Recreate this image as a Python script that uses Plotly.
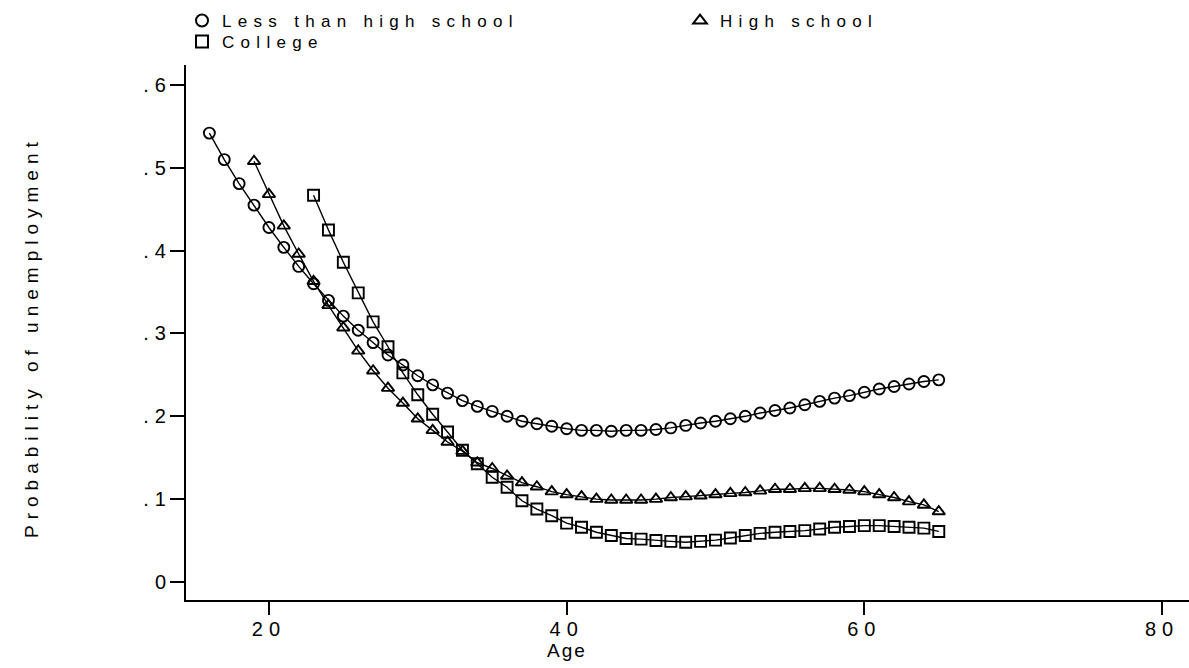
import plotly.graph_objects as go

# ---- data ----
ages_lths = list(range(16, 66))
lths = [0.542, 0.510, 0.481, 0.455, 0.428, 0.404, 0.381, 0.360, 0.340, 0.321,
        0.304, 0.289, 0.274, 0.262, 0.249, 0.238, 0.228, 0.219, 0.212, 0.206,
        0.200, 0.194, 0.191, 0.188, 0.185, 0.183, 0.183, 0.182, 0.183, 0.183,
        0.184, 0.186, 0.189, 0.192, 0.194, 0.197, 0.200, 0.204, 0.207, 0.210,
        0.214, 0.218, 0.222, 0.225, 0.229, 0.233, 0.236, 0.239, 0.242, 0.244]

ages_hs = list(range(19, 66))
hs = [0.508, 0.468, 0.430, 0.396, 0.363, 0.334, 0.307, 0.279, 0.255, 0.234,
      0.216, 0.197, 0.183, 0.169, 0.158, 0.144, 0.137, 0.128, 0.120, 0.115,
      0.109, 0.1055, 0.103, 0.100, 0.099, 0.099, 0.099, 0.100, 0.102, 0.103,
      0.104, 0.1055, 0.107, 0.108, 0.110, 0.112, 0.112, 0.113, 0.113, 0.112,
      0.111, 0.109, 0.1055, 0.102, 0.097, 0.093, 0.085]

ages_col = list(range(23, 66))
college = [0.467, 0.425, 0.386, 0.349, 0.314, 0.284, 0.2525, 0.226, 0.2025, 0.181,
           0.159, 0.1427, 0.1264, 0.1143, 0.098, 0.088, 0.080, 0.071, 0.066, 0.060,
           0.056, 0.0525, 0.0517, 0.050, 0.049, 0.048, 0.049, 0.0505, 0.053, 0.056,
           0.0586, 0.060, 0.061, 0.062, 0.064, 0.066, 0.067, 0.068, 0.068, 0.067,
           0.066, 0.065, 0.061]

names = ["Less than high school", "High school", "College"]
symbols = ["circle-open", "triangle-up-open", "square-open"]
y_tickvals = [0, 0.1, 0.2, 0.3, 0.4, 0.5, 0.6]
y_ticktext = ["0", ".1", ".2", ".3", ".4", ".5", ".6"]
x_tickvals = [20, 40, 60, 80]
x_title = "Age"
y_title = "Probability of unemployment"

FONT = "Liberation Sans, Arial, Helvetica, sans-serif"
W, H = 1189, 668
L_M, R_M, T_M, B_M = 186, 0, 65, 68
fig = go.Figure()

series = [(ages_lths, lths), (ages_hs, hs), (ages_col, college)]
for (xs, ys), nm, sym in zip(series, names, symbols):
    fig.add_trace(go.Scatter(
        x=xs, y=ys, mode="lines+markers", name=nm, showlegend=False,
        line=dict(color="black", width=1.4),
        marker=dict(symbol=sym, size=11, color="black",
                    line=dict(width=1.9, color="black")),
    ))

legend_ids = ["legend", "legend2", "legend3"]
for nm, sym, lg in zip(names, symbols, legend_ids):
    fig.add_trace(go.Scatter(
        x=[None], y=[None], mode="markers", name=nm, legend=lg,
        marker=dict(symbol=sym, size=8, color="black",
                    line=dict(width=1.4, color="black")),
    ))

def leg(xpx, ycenter_px):
    # first legend row sits ~18px below the legend's top edge
    return dict(xref="container", yref="container", x=xpx / W,
                y=1 - (ycenter_px - 18) / H, xanchor="left", yanchor="top",
                orientation="v", font=dict(family=FONT, size=17, color="black"),
                bgcolor="rgba(0,0,0,0)", itemsizing="constant")

plot_h = H - T_M - B_M
plot_w = W - L_M - R_M
fig.update_layout(
    width=W, height=H,
    paper_bgcolor="white", plot_bgcolor="white",
    margin=dict(l=L_M, r=R_M, t=T_M, b=B_M, autoexpand=False),
    font=dict(family=FONT, size=17, color="black"),
    legend=leg(182, 21),
    legend2=leg(680, 21),
    legend3=leg(182, 42),
    xaxis=dict(range=[14.43, 81.81], tickvals=x_tickvals, ticks="outside",
               ticklen=13, tickwidth=2, tickcolor="black", showline=True,
               linecolor="black", linewidth=2, showgrid=False, zeroline=False,
               tickfont=dict(family=FONT, size=20), ticklabelstandoff=-3),
    yaxis=dict(range=[-0.0218, 0.6242], tickvals=y_tickvals, ticktext=y_ticktext,
               ticks="outside", ticklen=14, tickwidth=2, tickcolor="black",
               showline=True, linecolor="black", linewidth=2, showgrid=False,
               zeroline=False, tickfont=dict(family=FONT, size=20),
               ticklabelstandoff=-6),
    annotations=[
        dict(text=x_title, x=40, xref="x", y=-(650 - (H - B_M)) / plot_h,
             yref="paper", xanchor="center", yanchor="middle", showarrow=False,
             font=dict(family=FONT, size=19)),
        dict(text=y_title, x=(31 - L_M) / plot_w, xref="paper",
             y=((H - B_M) - 337) / plot_h, yref="paper", textangle=-90,
             xanchor="center", yanchor="middle", showarrow=False,
             font=dict(family=FONT, size=19)),
    ],
)

css_js = """
var s = document.createElement('style');
s.textContent = 'body{margin:0 !important;} ' +
  'g[class^="legend"] text{letter-spacing:6.3px !important;} ' +
  'g[class^="legend"], g[class^="legend"] *{clip-path:none !important;} ' +
  '.xtick text{letter-spacing:6px;} .ytick text{letter-spacing:6px;} ' +
  '.annotation[data-index="0"] text{letter-spacing:2px;} ' +
  '.annotation[data-index="1"] text{letter-spacing:6px;}';
document.head.appendChild(s);
"""
fig.write_html("out.html", post_script=css_js,
               config={"displayModeBar": False})
